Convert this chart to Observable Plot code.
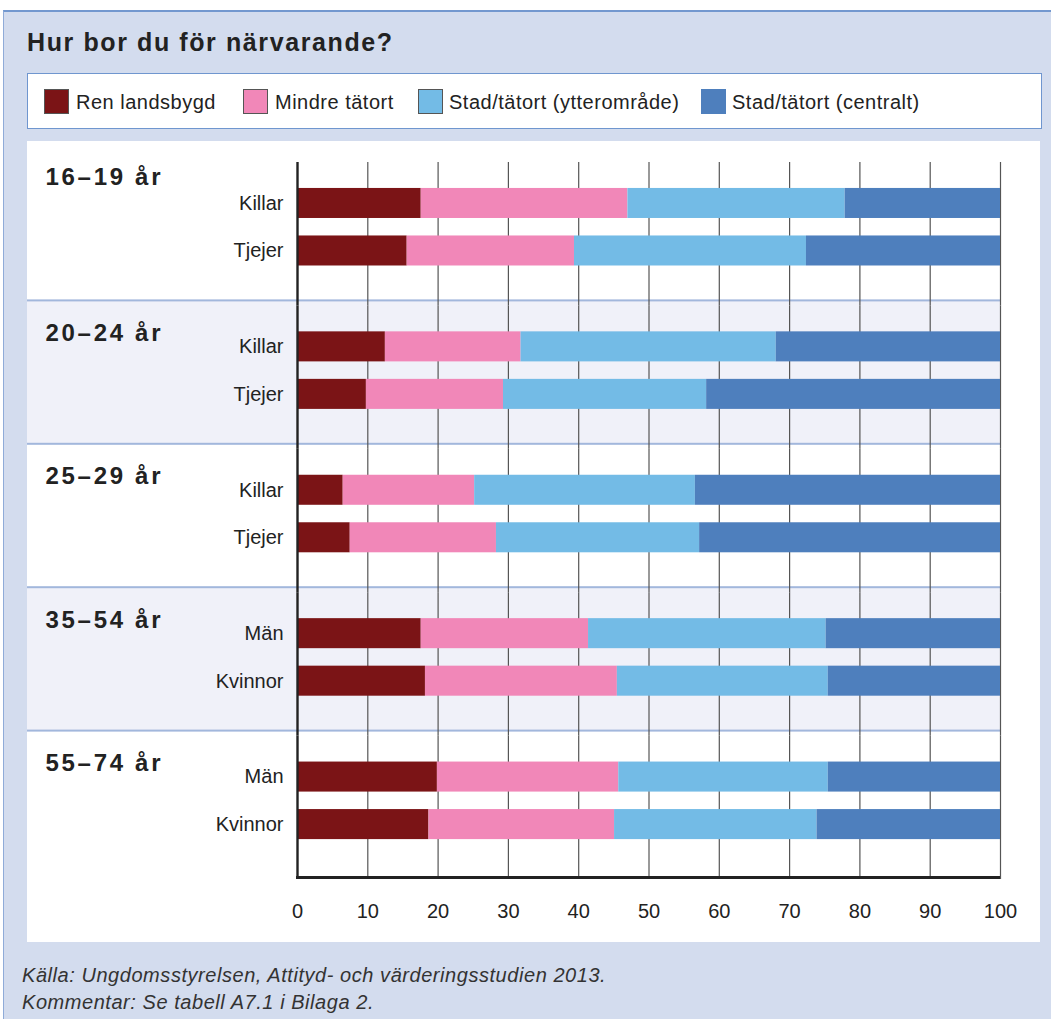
<!DOCTYPE html>
<html>
<head>
<meta charset="utf-8">
<script src="https://cdn.jsdelivr.net/npm/d3@7"></script>
<script src="https://cdn.jsdelivr.net/npm/@observablehq/plot@0.6"></script>
<style>
  html, body { margin: 0; padding: 0; background: #ffffff; }
  body { width: 1051px; height: 1019px; position: relative; overflow: hidden; font-family: "Liberation Sans", Arial, sans-serif; color: #222; }
  #panel { position: absolute; left: 3px; top: 10px; width: 1048px; height: 1009px; background: #d3dcee; border-top: 2px solid #7398cf; border-left: 1px solid #8fabd8; box-sizing: border-box; }
  #title { position: absolute; left: 27px; top: 30px; font-size: 25px; line-height: 25px; font-weight: bold; letter-spacing: 1.6px; color: #222; white-space: nowrap; }
  #legend { position: absolute; left: 27px; top: 73px; width: 1015px; height: 56px; background: #fff; border: 1.5px solid #6f96cf; box-sizing: border-box; }
  .sw { position: absolute; top: 15px; width: 25px; height: 25px; box-sizing: border-box; border: 1px solid #555; }
  .lt { position: absolute; top: 18px; font-size: 20px; line-height: 20px; letter-spacing: 0.5px; white-space: nowrap; color: #222; }
  #chart { position: absolute; left: 27px; top: 141px; width: 1013px; height: 801px; background: #fff; }
  #caption { position: absolute; left: 22px; top: 962px; font-size: 20px; line-height: 27px; font-style: italic; letter-spacing: 0.55px; color: #333; white-space: nowrap; }
</style>
</head>
<body>
<div id="panel"></div>
<div id="title"></div>
<div id="legend"></div>
<div id="chart"></div>
<div id="caption"></div>
<script>
// ---- data ----
const groups = ["16–19 år", "20–24 år", "25–29 år", "35–54 år", "55–74 år"];
const rowLabels = [["Killar", "Tjejer"], ["Killar", "Tjejer"], ["Killar", "Tjejer"], ["Män", "Kvinnor"], ["Män", "Kvinnor"]];
const categories = ["Ren landsbygd", "Mindre tätort", "Stad/tätort (ytterområde)", "Stad/tätort (centralt)"];
const renLandsbygd = [17.6, 15.6, 12.5, 9.8, 6.5, 7.5, 17.6, 18.2, 19.9, 18.7];
const mindreTatort = [29.4, 23.8, 19.3, 19.5, 18.7, 20.8, 23.8, 27.3, 25.8, 26.4];
const stadYtteromrade = [30.9, 33.0, 36.3, 28.9, 31.4, 28.9, 33.8, 30.0, 29.8, 28.8];
const stadCentralt = [22.1, 27.6, 31.9, 41.8, 43.4, 42.8, 24.8, 24.5, 24.5, 26.1];
const xTicks = [0, 10, 20, 30, 40, 50, 60, 70, 80, 90, 100];
const shadedGroups = ["20–24 år", "35–54 år"];
const title = "Hur bor du för närvarande?";
const captionLines = ["Källa: Ungdomsstyrelsen, Attityd- och värderingsstudien 2013.", "Kommentar: Se tabell A7.1 i Bilaga 2."];

// ---- styles ----
const colors = ["#7b1416", "#f187b8", "#73bbe6", "#4e7fbd"];

const series = [renLandsbygd, mindreTatort, stadYtteromrade, stadCentralt];
const rows = [];
groups.forEach((g, gi) => rowLabels[gi].forEach((lab, ri) => rows.push({group: g, row: String(ri), label: lab, index: gi * 2 + ri})));
const data = rows.flatMap(r => categories.map((c, ci) => ({group: r.group, row: r.row, category: c, value: series[ci][r.index]})));

document.getElementById("title").textContent = title;

// legend
const legend = document.getElementById("legend");
const swX = [16, 215, 390, 673];
const txX = [48, 247, 421, 704];
categories.forEach((c, i) => {
  const s = document.createElement("div");
  s.className = "sw"; s.style.left = swX[i] + "px"; s.style.background = colors[i];
  if (i === 3) s.style.borderColor = colors[i];
  legend.appendChild(s);
  const t = document.createElement("div");
  t.className = "lt"; t.style.left = txX[i] + "px"; t.textContent = c;
  legend.appendChild(t);
});
document.getElementById("caption").innerHTML = captionLines.map(l => `<div>${l}</div>`).join("");

const W = 1013, H = 801, mT = 16, mB = 68, mL = 270, mR = 40;
const cellH = (H - mT - mB) / groups.length;

const chart = Plot.plot({
  width: W, height: H,
  marginLeft: mL, marginRight: mR, marginTop: mT, marginBottom: mB,
  style: {fontFamily: "'Liberation Sans', Arial, sans-serif", fontSize: "20px", color: "#222", background: "#fff", overflow: "visible"},
  x: {domain: [0, 100], label: null},
  y: {domain: ["0", "1"], axis: null, paddingInner: 0.368, paddingOuter: 0.693, align: 0.47, round: false},
  fy: {domain: groups, axis: null, padding: 0, round: false},
  color: {domain: categories, range: colors},
  marks: [
    Plot.rect(shadedGroups, {fy: d => d, fill: "#f0f1f9", insetLeft: -mL}),
    Plot.rect(groups.slice(1), {fy: d => d, fill: "#a2b7dc", insetLeft: -mL, insetTop: -1, insetBottom: cellH - 1}),
    Plot.ruleX(xTicks.slice(1), {stroke: "#555", strokeWidth: 1.2, insetTop: 5, insetBottom: -5}),
    Plot.barX(data, Plot.stackX({x: "value", y: "row", fy: "group", fill: "category"})),
    Plot.ruleX([0], {stroke: "#222", strokeWidth: 2.4, insetTop: 5, insetBottom: -5}),
    Plot.rect(groups.slice(-1), {fy: d => d, fill: "#222", insetLeft: -1, insetTop: cellH + 2, insetBottom: -5}),
    Plot.text(rows, {fy: "group", y: "row", text: "label", frameAnchor: "left", dx: -14, textAnchor: "end", fontSize: 20, fill: "#222"}),
    Plot.text(groups.slice(0, 1), {fy: d => d, text: d => d, frameAnchor: "top-left", dx: -252, dy: 10, lineAnchor: "top", textAnchor: "start", fontSize: 24, fontWeight: "bold", fill: "#222"}),
    Plot.text(groups.slice(1), {fy: d => d, text: d => d, frameAnchor: "top-left", dx: -252, dy: 23, lineAnchor: "top", textAnchor: "start", fontSize: 24, fontWeight: "bold", fill: "#222"}),
    Plot.axisX({ticks: xTicks, tickSize: 0, tickPadding: 29, fontSize: 20, color: "#222", label: null, tickFormat: d => d})
  ]
});
d3.select(chart).selectAll("text").filter(function() { return groups.includes(this.textContent); }).style("letter-spacing", "2.7px");
document.getElementById("chart").appendChild(chart);
</script>
</body>
</html>
